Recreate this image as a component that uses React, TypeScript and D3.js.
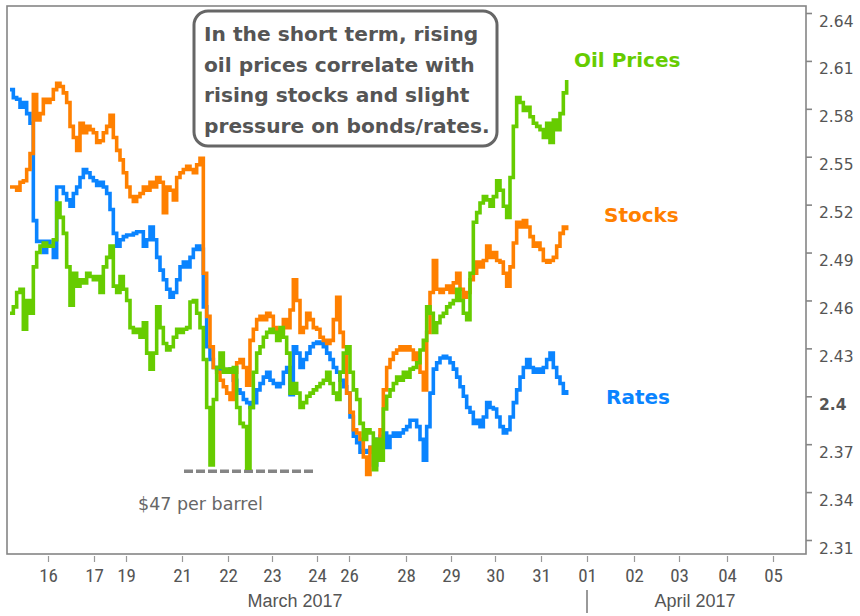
import React, { useRef, useEffect } from "react";
import * as d3 from "d3";

// intraday bars, one value every bar (bar 0 = first bar of March 16 session)
const rates = [
  2.592, 2.587, 2.586, 2.581, 2.584, 2.577, 2.571, 2.51, 2.497, 2.497,
  2.49, 2.497, 2.494, 2.487, 2.531, 2.531, 2.527, 2.523, 2.519, 2.527,
  2.531, 2.537, 2.542, 2.54, 2.537, 2.535, 2.532, 2.534, 2.531, 2.527,
  2.517, 2.502, 2.494, 2.498, 2.5, 2.501, 2.501, 2.502, 2.503, 2.503,
  2.494, 2.498, 2.506, 2.498, 2.487, 2.479, 2.473, 2.467, 2.462, 2.465,
  2.473, 2.481, 2.484, 2.481, 2.487, 2.492, 2.494, 2.492, 2.456, 2.431,
  2.423, 2.418, 2.417, 2.418, 2.415, 2.415, 2.417, 2.41, 2.404, 2.402,
  2.398, 2.396, 2.393, 2.396, 2.404, 2.408, 2.412, 2.415, 2.41, 2.408,
  2.406, 2.408, 2.415, 2.418, 2.401, 2.431, 2.427, 2.418, 2.423, 2.427,
  2.431, 2.433, 2.434, 2.433, 2.431, 2.427, 2.423, 2.418, 2.415, 2.41,
  2.406, 2.402, 2.387, 2.375, 2.371, 2.365, 2.366, 2.365, 2.368, 2.357,
  2.373, 2.375, 2.377, 2.368, 2.375, 2.377, 2.375, 2.377, 2.379, 2.381,
  2.385, 2.385, 2.381, 2.373, 2.36, 2.381, 2.402, 2.417, 2.421, 2.424,
  2.425, 2.424, 2.421, 2.417, 2.412, 2.406, 2.4, 2.393, 2.39, 2.383,
  2.385, 2.381, 2.387, 2.396, 2.393, 2.392, 2.387, 2.381, 2.377, 2.379,
  2.387, 2.396, 2.404, 2.412, 2.418, 2.423, 2.418, 2.415, 2.417, 2.415,
  2.418, 2.423, 2.427, 2.418, 2.412, 2.408, 2.402, 2.404,
];

const stocks = [
  2.531, 2.531, 2.529, 2.534, 2.535, 2.542, 2.552, 2.589, 2.573, 2.577,
  2.586, 2.584, 2.586, 2.592, 2.596, 2.594, 2.59, 2.584, 2.569, 2.562,
  2.554, 2.571, 2.565, 2.569, 2.567, 2.565, 2.559, 2.56, 2.565, 2.569,
  2.576, 2.562, 2.554, 2.548, 2.54, 2.531, 2.525, 2.522, 2.525, 2.527,
  2.531, 2.529, 2.534, 2.531, 2.537, 2.534, 2.515, 2.531, 2.529, 2.523,
  2.537, 2.54, 2.542, 2.544, 2.542, 2.54, 2.545, 2.549, 2.477, 2.45,
  2.431, 2.418, 2.415, 2.41, 2.406, 2.402, 2.398, 2.415, 2.421, 2.423,
  2.418, 2.407, 2.435, 2.442, 2.448, 2.45, 2.448, 2.452, 2.45, 2.443,
  2.442, 2.44, 2.448, 2.443, 2.454, 2.473, 2.46, 2.44, 2.443, 2.452,
  2.448, 2.443, 2.442, 2.437, 2.435, 2.433, 2.435, 2.448, 2.462, 2.44,
  2.431, 2.402, 2.39, 2.379, 2.377, 2.373, 2.362, 2.351, 2.368, 2.365,
  2.368, 2.379, 2.404, 2.418, 2.423, 2.427, 2.429, 2.431, 2.429, 2.431,
  2.429, 2.423, 2.427, 2.415, 2.404, 2.44, 2.465, 2.485, 2.467, 2.465,
  2.467, 2.469, 2.465, 2.471, 2.477, 2.467, 2.462, 2.465, 2.473, 2.477,
  2.484, 2.481, 2.485, 2.494, 2.487, 2.49, 2.485, 2.484, 2.477, 2.469,
  2.481, 2.496, 2.509, 2.506, 2.51, 2.506, 2.5, 2.494, 2.496, 2.492,
  2.485, 2.484, 2.485, 2.487, 2.494, 2.502, 2.506, 2.504,
];

const oil = [
  2.452, 2.456, 2.465, 2.467, 2.442, 2.46, 2.452, 2.481, 2.49, 2.494,
  2.496, 2.494, 2.494, 2.498, 2.521, 2.512, 2.502, 2.481, 2.457, 2.477,
  2.469, 2.473, 2.471, 2.477, 2.475, 2.473, 2.475, 2.465, 2.481, 2.487,
  2.494, 2.469, 2.465, 2.475, 2.467, 2.46, 2.443, 2.44, 2.442, 2.437,
  2.446, 2.427, 2.417, 2.427, 2.456, 2.443, 2.433, 2.429, 2.431, 2.437,
  2.442, 2.44, 2.442, 2.443, 2.459, 2.46, 2.452, 2.443, 2.423, 2.393,
  2.357, 2.398, 2.418, 2.427, 2.415, 2.417, 2.415, 2.418, 2.393, 2.383,
  2.381, 2.355, 2.393, 2.415, 2.427, 2.431, 2.437, 2.44, 2.442, 2.44,
  2.435, 2.443, 2.437, 2.427, 2.402, 2.408, 2.402, 2.393, 2.396, 2.4,
  2.402, 2.404, 2.406, 2.408, 2.41, 2.415, 2.408, 2.402, 2.398, 2.415,
  2.427, 2.431, 2.415, 2.404, 2.398, 2.383, 2.373, 2.379, 2.377, 2.354,
  2.373, 2.36, 2.392, 2.4, 2.404, 2.408, 2.412, 2.41, 2.415, 2.412,
  2.417, 2.418, 2.421, 2.429, 2.435, 2.456, 2.452, 2.44, 2.446, 2.45,
  2.452, 2.456, 2.458, 2.46, 2.467, 2.46, 2.452, 2.448, 2.477, 2.509,
  2.515, 2.521, 2.525, 2.523, 2.519, 2.525, 2.535, 2.529, 2.519, 2.512,
  2.537, 2.569, 2.587, 2.584, 2.579, 2.581, 2.575, 2.571, 2.569, 2.567,
  2.562, 2.571, 2.559, 2.573, 2.567, 2.577, 2.59, 2.598,
];

const dayLabels = ["16", "17", "19", "21", "22", "23", "24", "26", "28", "29", "30", "31", "01", "02", "03", "04", "05"];
const dayBars = [11.4, 25.2, 34.8, 51.6, 65.4, 78.6, 92.1, 101.7, 118.8, 132.3, 145.5, 159.3, 173.1, 187.2, 200.7, 215.1, 228.9];
const monthLabels = ["March 2017", "April 2017"];
const monthBars = [85.5, 205.5];
const monthBreakBar = 173.1;

const yTicks = [2.31, 2.34, 2.37, 2.4, 2.43, 2.46, 2.49, 2.52, 2.55, 2.58, 2.61, 2.64];

const noteLines = [
  "In the short term, rising",
  "oil prices correlate with",
  "rising stocks and slight",
  "pressure on bonds/rates.",
];

const oilFloor = 2.353;
const oilFloorBars = [52.2, 91.5];

const series = [
  { name: "Rates", values: rates, color: "#0a84ff", labelValue: 2.4, labelX: 606 },
  { name: "Stocks", values: stocks, color: "#ff8000", labelValue: 2.514, labelX: 604 },
  { name: "Oil Prices", values: oil, color: "#66cc00", labelValue: 2.611, labelX: 574 },
];

const width = 860;
const height = 616;

const App = () => {
  const ref = useRef<SVGSVGElement>(null);

  useEffect(() => {
    const svg = d3.select(ref.current);
    svg.selectAll("*").remove();

    const x = d3.scaleLinear().domain([-0.9, 238.8]).range([7, 806]);
    const y = d3.scaleLinear().domain([2.31, 2.64]).range([540, 13]);

    svg.append("rect").attr("width", width).attr("height", height).attr("fill", "#fff");

    // frame
    svg
      .append("rect")
      .attr("x", 7)
      .attr("y", 6)
      .attr("width", 799)
      .attr("height", 548)
      .attr("fill", "none")
      .attr("stroke", "#858585")
      .attr("stroke-width", 1.6);

    // right axis
    const yAxisG = svg
      .append("g")
      .attr("transform", "translate(806,0)")
      .call(
        d3
          .axisRight(y)
          .tickValues(yTicks)
          .tickSize(6)
          .tickFormat((d) => (+d === 2.4 ? "2.4" : d3.format(".2f")(+d)))
      );
    yAxisG.select(".domain").remove();
    yAxisG.selectAll("line").attr("stroke", "#858585").attr("stroke-width", 1.6);
    yAxisG
      .selectAll("text")
      .attr("x", 13)
      .attr("dy", "13px")
      .attr("fill", "#555")
      .attr("font-family", "'DejaVu Sans', Verdana, sans-serif")
      .attr("font-size", 15.5)
      .attr("font-weight", (d: any) => (+d === 2.4 ? "bold" : "normal"));

    // bottom axis
    const xAxisG = svg
      .append("g")
      .attr("transform", "translate(0,556)")
      .call(
        d3
          .axisBottom(x)
          .tickValues(dayBars)
          .tickSize(6)
          .tickFormat((d, i) => dayLabels[i])
      );
    xAxisG.select(".domain").remove();
    xAxisG.selectAll("line").attr("stroke", "#999").attr("stroke-width", 1.2);
    xAxisG
      .selectAll("text")
      .attr("y", 26)
      .attr("dy", 0)
      .attr("fill", "#555")
      .attr("font-family", "'Liberation Sans Narrow', 'Roboto Condensed', 'Liberation Sans', sans-serif")
      .attr("font-size", 19);

    svg
      .selectAll(".month")
      .data(monthLabels)
      .enter()
      .append("text")
      .attr("class", "month")
      .attr("x", (d, i) => x(monthBars[i]))
      .attr("y", 607)
      .attr("text-anchor", "middle")
      .attr("fill", "#555")
      .attr("font-family", "'Liberation Sans', sans-serif")
      .attr("font-size", 18)
      .text((d) => d);

    svg
      .append("line")
      .attr("x1", x(monthBreakBar))
      .attr("x2", x(monthBreakBar))
      .attr("y1", 590)
      .attr("y2", 613)
      .attr("stroke", "#777")
      .attr("stroke-width", 1.5);

    // $47 floor marker
    svg
      .append("line")
      .attr("x1", x(oilFloorBars[0]))
      .attr("x2", x(oilFloorBars[1]))
      .attr("y1", y(oilFloor))
      .attr("y2", y(oilFloor))
      .attr("stroke", "#858585")
      .attr("stroke-width", 3.5)
      .attr("stroke-dasharray", "9,3");

    svg
      .append("text")
      .attr("x", 138)
      .attr("y", 510)
      .attr("fill", "#666")
      .attr("font-family", "'DejaVu Sans', Verdana, sans-serif")
      .attr("font-size", 17.5)
      .text("$47 per barrel");

    // lines
    const lineGen = d3
      .line<number>()
      .x((d, i) => x(i))
      .y((d) => y(d))
      .curve(d3.curveStepAfter);

    svg
      .selectAll(".line-path")
      .data(series)
      .enter()
      .append("path")
      .attr("class", "line-path")
      .attr("fill", "none")
      .attr("stroke", (d) => d.color)
      .attr("stroke-width", 3.6)
      .attr("d", (d) => lineGen(d.values));

    svg
      .selectAll(".series-label")
      .data(series)
      .enter()
      .append("text")
      .attr("class", "series-label")
      .attr("x", (d) => d.labelX)
      .attr("y", (d) => y(d.labelValue) + 8)
      .attr("fill", (d) => d.color)
      .attr("font-family", "'DejaVu Sans', Verdana, sans-serif")
      .attr("font-weight", "bold")
      .attr("font-size", 20)
      .text((d) => d.name);

    // annotation box
    const note = svg.append("g");
    note
      .append("rect")
      .attr("x", 194)
      .attr("y", 11)
      .attr("width", 303)
      .attr("height", 135)
      .attr("rx", 14)
      .attr("fill", "#fff")
      .attr("stroke", "#666")
      .attr("stroke-width", 3);
    note
      .selectAll("text")
      .data(noteLines)
      .enter()
      .append("text")
      .attr("x", 204)
      .attr("y", (d, i) => 41 + i * 30.5)
      .attr("fill", "#555")
      .attr("font-family", "'DejaVu Sans', Verdana, sans-serif")
      .attr("font-weight", "bold")
      .attr("font-size", 20.2)
      .text((d) => d);
  }, []);

  return (
    <svg
      ref={ref}
      width={width}
      height={height}
      style={{ position: "absolute", left: 0, top: 0, display: "block" }}
    ></svg>
  );
};

export default App;
